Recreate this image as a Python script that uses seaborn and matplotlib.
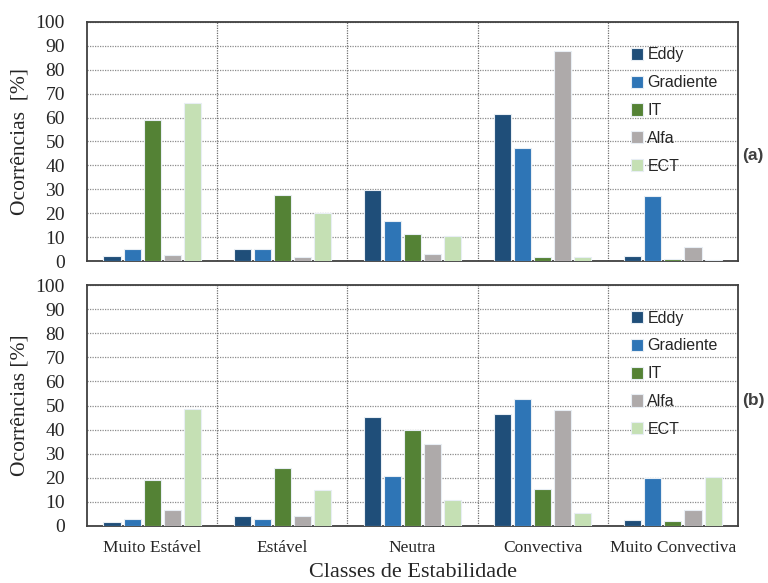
import matplotlib
matplotlib.use("Agg")
import matplotlib.pyplot as plt
import seaborn as sns
import pandas as pd

categories = ["Muito Estável", "Estável", "Neutra", "Convectiva", "Muito Convectiva"]
methods = ["Eddy", "Gradiente", "IT", "Alfa", "ECT"]

# Panel (a)
a_eddy = [2.0, 4.9, 29.8, 61.7, 2.1]
a_gradiente = [4.9, 4.9, 16.6, 47.2, 27.2]
a_it = [58.8, 27.6, 11.1, 1.5, 0.8]
a_alfa = [2.4, 1.5, 2.9, 87.7, 5.7]
a_ect = [66.3, 20.1, 10.3, 1.5, 0.5]

# Panel (b)
b_eddy = [1.5, 4.3, 45.1, 46.5, 2.6]
b_gradiente = [3.0, 3.0, 20.9, 52.8, 19.9]
b_it = [19.2, 24.2, 39.7, 15.5, 2.1]
b_alfa = [6.8, 4.3, 34.0, 48.3, 6.8]
b_ect = [48.4, 15.1, 10.9, 5.3, 20.5]

colors = ["#1F4E79", "#2E75B6", "#548235", "#AEAAAA", "#C5E0B4"]

def to_long(series):
    rows = []
    for m, vals in zip(methods, series):
        for c, v in zip(categories, vals):
            rows.append({"Classe": c, "Metodo": m, "Valor": v})
    return pd.DataFrame(rows)

df_a = to_long([a_eddy, a_gradiente, a_it, a_alfa, a_ect])
df_b = to_long([b_eddy, b_gradiente, b_it, b_alfa, b_ect])

sns.set_style("white")
plt.rcParams["font.family"] = ["Liberation Serif", "DejaVu Serif"]

fig = plt.figure(figsize=(7.68, 5.83), dpi=100)
ax_a = fig.add_axes([0.1133, 0.5523, 0.8477, 0.4100])
ax_b = fig.add_axes([0.1133, 0.0978, 0.8477, 0.4133])

for ax, df, tag, tag_y, ylabel in [(ax_a, df_a, "(a)", 0.443, "Ocorrências  [%]"),
                                   (ax_b, df_b, "(b)", 0.52, "Ocorrências [%]")]:
    sns.barplot(data=df, x="Classe", y="Valor", hue="Metodo", order=categories,
                hue_order=methods, palette=colors, saturation=1, width=0.77, gap=0.15,
                edgecolor="#E8EEF4", linewidth=0.8, ax=ax, zorder=3)
    ax.set_xlim(-0.5, 4.5)
    ax.set_ylim(0, 100)
    ax.set_yticks(range(0, 101, 10))
    ax.yaxis.grid(True, linestyle=(0, (1, 1)), color="#8C8C8C", linewidth=0.9, zorder=0)
    for xv in [0.5, 1.5, 2.5, 3.5]:
        ax.axvline(xv, linestyle=(0, (1, 1)), color="#6E6E6E", linewidth=0.9, zorder=1)
    for s in ax.spines.values():
        s.set_visible(True)
        s.set_color("#404040")
        s.set_linewidth(1.3)
    ax.tick_params(axis="both", length=0)
    ax.tick_params(axis="y", labelsize=14, pad=16)
    ax.set_ylabel(ylabel, fontsize=15.5, labelpad=4)
    ax.set_xlabel("")
    leg = ax.legend(loc="upper left", bbox_to_anchor=(0.825, 0.92), frameon=False,
                    prop={"family": "Liberation Sans", "size": 11.5},
                    handlelength=0.8, handleheight=0.8, handletextpad=0.25,
                    labelspacing=0.8, borderaxespad=0)
    for t in leg.get_texts():
        t.set_color("#262626")
    ax.text(1.006, tag_y, tag, transform=ax.transAxes, fontsize=12.5, fontweight="bold",
            family="Liberation Sans", color="#404040", va="center", ha="left")

ax_a.set_xticklabels([])
ax_b.tick_params(axis="x", labelsize=12.5, pad=10)
ax_b.set_xlabel("Classes de Estabilidade", fontsize=16, labelpad=5)

fig.savefig("out.png", dpi=100)
